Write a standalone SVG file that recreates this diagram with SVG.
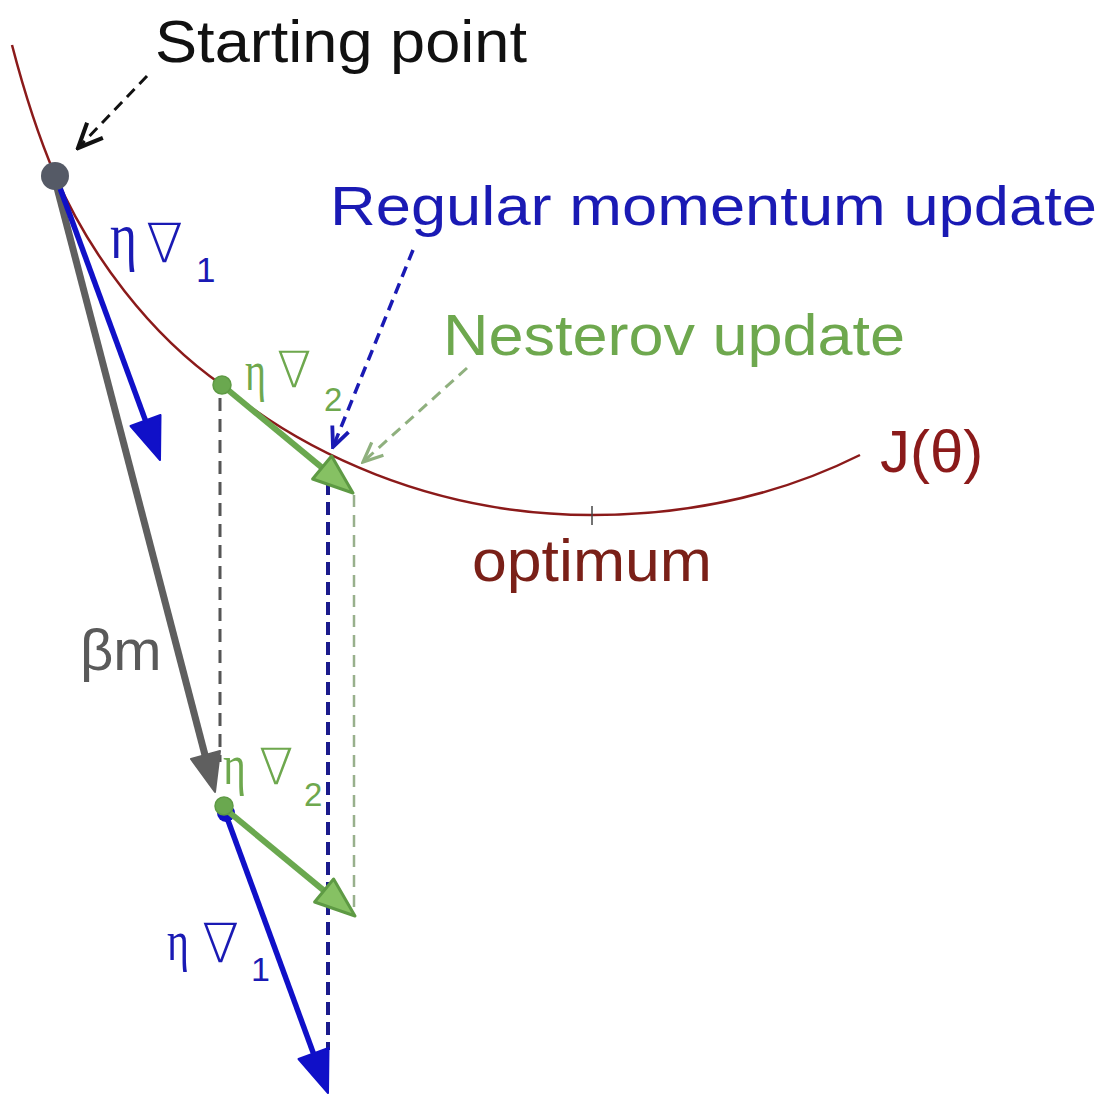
<svg xmlns="http://www.w3.org/2000/svg" width="1110" height="1097" viewBox="0 0 1110 1097">
  <style>
    .sans { font-family: "Liberation Sans", Arial, sans-serif; }
    .serif { font-family: "Liberation Serif", "Times New Roman", serif; }
    .sym { font-family: "DejaVu Sans", sans-serif; font-weight: 200; }
    .blue { fill: #1a1ab4; }
    .green { fill: #6ea84e; }
    .red { fill: #8b1a1a; }
    .gray { fill: #5a5a5a; }
  </style>
  <defs>
    <marker id="chevBlack" markerUnits="userSpaceOnUse" markerWidth="30" markerHeight="30" refX="20" refY="10" orient="auto" viewBox="0 0 22 20">
      <path d="M2,2 L20,10 L2,18" fill="none" stroke="#111" stroke-width="3"/>
    </marker>
    <marker id="chevBlue" markerUnits="userSpaceOnUse" markerWidth="24" markerHeight="24" refX="20" refY="10" orient="auto" viewBox="0 0 22 20">
      <path d="M2,2 L20,10 L2,18" fill="none" stroke="#1a1ab4" stroke-width="3.5"/>
    </marker>
    <marker id="chevGreen" markerUnits="userSpaceOnUse" markerWidth="24" markerHeight="24" refX="20" refY="10" orient="auto" viewBox="0 0 22 20">
      <path d="M2,2 L20,10 L2,18" fill="none" stroke="#8fb07e" stroke-width="3"/>
    </marker>
  </defs>
  <rect width="1110" height="1097" fill="#ffffff"/>

  <g id="curve">
    <path d="M12,45 C25,95 40,140 55,175 C90,255 150,335 222,385 C300,450 430,515 592,515 C700,515 790,490 860,455" fill="none" stroke="#8b1a1a" stroke-width="2.5"/>
    <line x1="592" y1="506" x2="592" y2="525" stroke="#444" stroke-width="1.5"/>
  </g>

  <g id="connectors">
    <line x1="220" y1="398" x2="220" y2="762" stroke="#555" stroke-width="3" stroke-dasharray="13,8"/>
    <line x1="328" y1="462" x2="328" y2="1050" stroke="#1a1a8c" stroke-width="4" stroke-dasharray="13,7"/>
    <line x1="354" y1="495" x2="354" y2="912" stroke="#98b08c" stroke-width="2.5" stroke-dasharray="12,8"/>

    <line x1="147" y1="76" x2="78" y2="148" stroke="#111" stroke-width="3" stroke-dasharray="11,7" marker-end="url(#chevBlack)"/>
    <line x1="413" y1="250" x2="333" y2="447" stroke="#1a1ab4" stroke-width="3.5" stroke-dasharray="11,7" marker-end="url(#chevBlue)"/>
    <line x1="467" y1="368" x2="363" y2="462" stroke="#8fb07e" stroke-width="3" stroke-dasharray="11,7" marker-end="url(#chevGreen)"/>

    <line x1="55" y1="180" x2="205" y2="755" stroke="#5f5f5f" stroke-width="7"/>
    <polygon points="215,792 220,751 191,759" fill="#5f5f5f" stroke="#5f5f5f" stroke-width="2" stroke-linejoin="round"/>

    <line x1="60" y1="188" x2="145.5" y2="420.6" stroke="#1010c8" stroke-width="5.5"/>
    <polygon points="160,460 160.5,415 130.5,426" fill="#1010c8" stroke="#1010c8" stroke-width="2" stroke-linejoin="round"/>

    <circle cx="226" cy="813" r="9" fill="#1010c8"/>
    <line x1="226" y1="815" x2="313.5" y2="1053.6" stroke="#1010c8" stroke-width="5.5"/>
    <polygon points="328,1093 328.5,1048 298.5,1059" fill="#1010c8" stroke="#1010c8" stroke-width="2" stroke-linejoin="round"/>

    <line x1="222" y1="385" x2="322" y2="467.6" stroke="#6aa84f" stroke-width="6"/>
    <polygon points="353,493 331.6,456 312.6,479" fill="#86c163" stroke="#5e9a44" stroke-width="3" stroke-linejoin="round"/>

    <line x1="224" y1="808" x2="324" y2="890.6" stroke="#6aa84f" stroke-width="6"/>
    <polygon points="355,916 333.6,879 314.6,902" fill="#86c163" stroke="#5e9a44" stroke-width="3" stroke-linejoin="round"/>
  </g>

  <g id="start-point">
    <circle cx="55" cy="176" r="14" fill="#555a66"/>
  </g>
  <g id="lookahead-point">
    <circle cx="222" cy="385" r="9" fill="#6aa84f" stroke="#5e9a44" stroke-width="1.5"/>
  </g>
  <g id="momentum-point">
    <circle cx="224" cy="806" r="9" fill="#6aa84f" stroke="#5e9a44" stroke-width="1.5"/>
  </g>

  <g id="labels">
    <text class="sans" x="155" y="62" font-size="60" fill="#111" textLength="372" lengthAdjust="spacingAndGlyphs">Starting point</text>
    <text class="sans blue" x="330" y="225" font-size="56" textLength="767" lengthAdjust="spacingAndGlyphs">Regular momentum update</text>
    <text class="sans green" x="443" y="355" font-size="58" textLength="462" lengthAdjust="spacingAndGlyphs">Nesterov update</text>
    <text class="sans red" x="880" y="472" font-size="60">J(θ)</text>
    <text class="sans" x="472" y="581" font-size="60" fill="#7a2018" textLength="240" lengthAdjust="spacingAndGlyphs">optimum</text>
    <text class="sans gray" x="80" y="670" font-size="58">βm</text>

    <text class="serif blue" x="110" y="258" font-size="66" textLength="27" lengthAdjust="spacingAndGlyphs">η</text>
    <text class="sym blue" x="146" y="262" font-size="54">∇</text>
    <text class="sans blue" x="196" y="282" font-size="35">1</text>

    <text class="serif green" x="245" y="390" font-size="56" textLength="21" lengthAdjust="spacingAndGlyphs">η</text>
    <text class="sym green" x="277" y="387" font-size="50">∇</text>
    <text class="sans green" x="324" y="411" font-size="33">2</text>

    <text class="serif green" x="223" y="784" font-size="56" textLength="23" lengthAdjust="spacingAndGlyphs">η</text>
    <text class="sym green" x="259" y="784" font-size="50">∇</text>
    <text class="sans green" x="304" y="806" font-size="33">2</text>

    <text class="serif blue" x="167" y="960" font-size="56" textLength="22" lengthAdjust="spacingAndGlyphs">η</text>
    <text class="sym blue" x="202" y="962" font-size="54">∇</text>
    <text class="sans blue" x="251" y="981" font-size="34">1</text>
  </g>
</svg>
